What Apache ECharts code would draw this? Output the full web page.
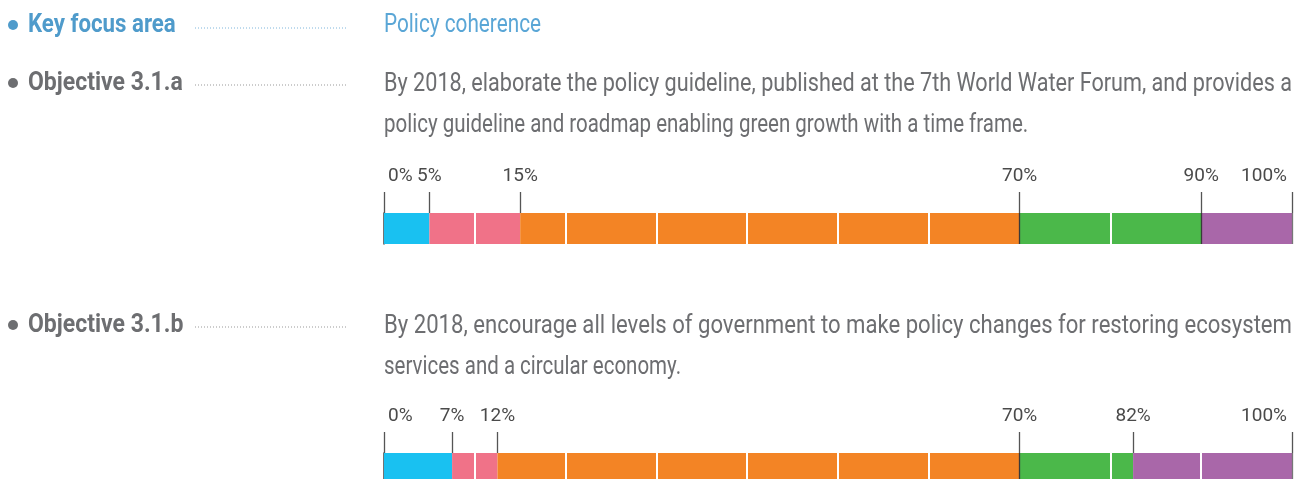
<!DOCTYPE html>
<html>
<head>
<meta charset="utf-8">
<script src="https://cdn.jsdelivr.net/npm/echarts@6/dist/echarts.min.js"></script>
<style>
  html, body { margin: 0; background: #fff; }
  #chart { width: 1295px; height: 479px; }
</style>
</head>
<body>
<div id="chart"></div>
<script>
// segment shares (percent of the bar) for each objective
const stageNames = ['Stage 1', 'Stage 2', 'Stage 3', 'Stage 4', 'Stage 5'];
const stageColors = ['#19c1f1', '#f07288', '#f38425', '#4bb84a', '#a967a9'];
const objectiveA = [5, 10, 55, 20, 10];
const objectiveB = [7.5, 5, 57.5, 12.5, 17.5];

// cumulative ticks above each bar and their printed labels
const ticksA = [0, 5, 15, 70, 90, 100];
const tickLabelsA = ['0%', '5%', '15%', '70%', '90%', '100%'];
const ticksB = [0, 7.5, 12.5, 70, 82.5, 100];
const tickLabelsB = ['0%', '7%', '12%', '70%', '82%', '100%'];

// white dividers every 10%
const dividers = [10, 20, 30, 40, 50, 60, 70, 80, 90];

const textA = [
  'By 2018, elaborate the policy guideline, published at the 7th World Water Forum, and provides a',
  'policy guideline and roadmap enabling green growth with a time frame.'
];
const textB = [
  'By 2018, encourage all levels of government to make policy changes for restoring ecosystem',
  'services and a circular economy.'
];

const FONT = 'Roboto, sans-serif';
const BLUE = '#4f9bcb';
const GREY = '#6d6e71';
const TEXT_W = 908; // width of the justified text column

// the original uses a condensed face, so squeeze Roboto horizontally
const measureCtx = document.createElement('canvas').getContext('2d');
function fitScale(text, size, weight) {
  measureCtx.font = (weight || 'normal') + ' ' + size + 'px Roboto';
  return TEXT_W / measureCtx.measureText(text).width;
}

const grids = [
  { left: 384, right: 3, top: 213, height: 31 },
  { left: 384, right: 3, top: 453, height: 31 }
];

const tickRich = {
  first: { fontFamily: FONT, fontSize: 19, color: '#4a4a4a', padding: [0, 0, 0, 4] },
  last: { fontFamily: FONT, fontSize: 19, color: '#4a4a4a', padding: [0, 5, 0, 0] }
};

function makeXAxis(gridIndex, ticks, labels) {
  return {
    type: 'value', gridIndex: gridIndex, position: 'top',
    min: 0, max: 100,
    axisLine: { show: false },
    splitLine: { show: false },
    axisTick: {
      show: true, customValues: ticks, length: 21,
      lineStyle: { color: '#555', width: 1.3 }
    },
    axisLabel: {
      customValues: ticks, margin: 27,
      fontFamily: FONT, fontSize: 19, color: '#4a4a4a',
      alignMinLabel: 'left', alignMaxLabel: 'right',
      rich: tickRich,
      formatter: (v) => {
        const i = ticks.indexOf(v);
        if (i === 0) return '{first|' + labels[i] + '}';
        if (i === ticks.length - 1) return '{last|' + labels[i] + '}';
        return labels[i];
      }
    }
  };
}

function makeYAxis(gridIndex) {
  return {
    type: 'category', gridIndex: gridIndex, data: ['x'],
    axisLine: { show: true, lineStyle: { color: '#444', width: 1.5 } },
    axisTick: { show: false }, axisLabel: { show: false }
  };
}

function makeSeries(gridIndex, values, ticks) {
  return values.map((v, i) => {
    const s = {
      name: stageNames[i], type: 'bar', stack: 'obj' + gridIndex,
      xAxisIndex: gridIndex, yAxisIndex: gridIndex,
      barWidth: '100%', silent: true,
      itemStyle: { color: stageColors[i] },
      data: [v]
    };
    if (i === values.length - 1) {
      s.markLine = {
        silent: true, symbol: 'none', label: { show: false },
        data: dividers.map((d) => ({
          xAxis: d,
          lineStyle: ticks.includes(d)
            ? { color: '#3a3a3a', width: 1.3, type: 'solid' }
            : { color: '#ffffff', width: 2, type: 'solid' }
        })).concat([{ xAxis: 100, lineStyle: { color: '#777', width: 1.3, type: 'solid' } }])
      };
    }
    return s;
  });
}

function label(x, y, text, opts, scale) {
  return {
    type: 'text', x: x, y: y, scaleX: scale || 0.82, silent: true,
    style: Object.assign({
      text: text, x: 0, y: 0, fontFamily: FONT, fontSize: 25, fill: GREY,
      verticalAlign: 'middle', align: 'left'
    }, opts || {})
  };
}

function bullet(y, color) {
  return { type: 'circle', shape: { cx: 13, cy: y, r: 5 }, style: { fill: color }, silent: true };
}

function dots(y, color) {
  return {
    type: 'line', silent: true,
    shape: { x1: 195, y1: y, x2: 347, y2: y },
    style: { stroke: color, lineWidth: 1, lineDash: [1, 2] }
  };
}

const bold = { fontWeight: 'bold' };

const chart = echarts.init(document.getElementById('chart'));
chart.setOption({
  animation: false,
  grid: grids,
  xAxis: [makeXAxis(0, ticksA, tickLabelsA), makeXAxis(1, ticksB, tickLabelsB)],
  yAxis: [makeYAxis(0), makeYAxis(1)],
  series: makeSeries(0, objectiveA, ticksA).concat(makeSeries(1, objectiveB, ticksB)),
  graphic: [
    bullet(25, BLUE), label(28, 26, 'Key focus area', { fill: BLUE, fontWeight: 'bold' }, 0.89), dots(28, '#7fb6dc'),
    label(384, 26, 'Policy coherence', { fill: '#5aa6d6' }, 0.83),

    bullet(83, GREY), label(28, 84, 'Objective 3.1.a', bold, 0.92), dots(85, '#999'),
    label(384, 85, textA[0], null, fitScale(textA[0], 25)), label(384, 126, textA[1]),

    bullet(325, GREY), label(28, 326, 'Objective 3.1.b', bold, 0.92), dots(327, '#999'),
    label(384, 327, textB[0], null, fitScale(textB[0], 25)), label(384, 368, textB[1])
  ]
});
</script>
</body>
</html>
